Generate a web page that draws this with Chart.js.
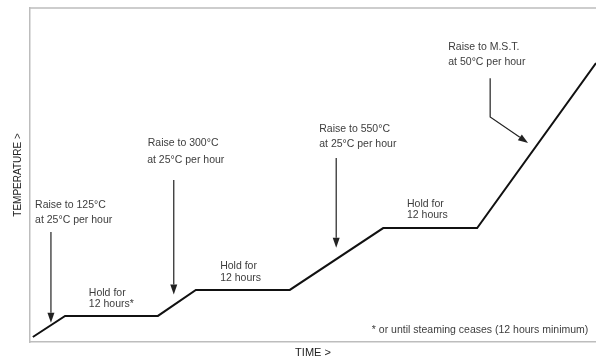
<!DOCTYPE html>
<html>
<head>
<meta charset="utf-8">
<script src="https://cdn.jsdelivr.net/npm/chart.js@4"></script>
<style>
  html, body { margin: 0; padding: 0; background: #fff; }
  #wrap { width: 596px; height: 360px; }
</style>
</head>
<body>
<div id="wrap"><canvas id="profile"></canvas></div>
<script>
// 溫度曲線 (示意圖, 0-100 相對單位)
let timeX = [0.5, 6.2, 22.6, 29.3, 45.9, 62.4, 79.0, 100]
let tempY = [1.5, 7.8, 7.8, 15.6, 15.6, 34.1, 34.1, 83.5]

// 箭頭 (折線, 最後一點是箭頭尖)
let arrowX = [[3.7, 3.7], [25.4, 25.4], [54.1, 54.1], [81.3, 81.3, 88.0]]
let arrowY = [[32.9, 5.8], [48.5, 14.2], [55.1, 28.2], [79.0, 67.4, 59.6]]

// 說明文字
let noteText = [
  'Raise to 125°C', 'at 25°C per hour',
  'Hold for', '12 hours*',
  'Raise to 300°C', 'at 25°C per hour',
  'Hold for', '12 hours',
  'Raise to 550°C', 'at 25°C per hour',
  'Hold for', '12 hours',
  'Raise to M.S.T.', 'at 50°C per hour',
  '* or until steaming ceases (12 hours minimum)'
]
let noteX = [0.9, 0.9, 10.4, 10.4, 20.8, 20.7, 33.6, 33.6, 51.1, 51.1, 66.6, 66.6, 73.9, 73.9, 60.4]
let noteY = [41.0, 36.5, 14.7, 11.3, 59.6, 54.5, 22.8, 19.2, 63.8, 59.3, 41.3, 38.0, 88.3, 83.8, 3.6]

const fontFamily = '"Liberation Sans", Arial, Helvetica, sans-serif'

// 畫外框上緣、箭頭、文字
const notesPlugin = {
  id: 'notes',
  afterDatasetsDraw(chart) {
    const {ctx, chartArea, scales: {x, y}} = chart
    ctx.save()

    // 上框線
    ctx.strokeStyle = '#bdbdbd'
    ctx.lineWidth = 1.5
    ctx.beginPath()
    ctx.moveTo(chartArea.left, chartArea.top)
    ctx.lineTo(chartArea.right, chartArea.top)
    ctx.stroke()

    // 箭頭
    ctx.strokeStyle = '#222'
    ctx.fillStyle = '#222'
    ctx.lineWidth = 1.2
    arrowX.forEach(function(xs, i) {
      const ys = arrowY[i]
      const pts = xs.map((v, k) => [x.getPixelForValue(v), y.getPixelForValue(ys[k])])
      const n = pts.length
      const tip = pts[n - 1], prev = pts[n - 2]
      const ang = Math.atan2(tip[1] - prev[1], tip[0] - prev[0])
      const len = 10, half = 3.5
      const bx = tip[0] - Math.cos(ang) * len
      const by = tip[1] - Math.sin(ang) * len
      ctx.beginPath()
      ctx.moveTo(pts[0][0], pts[0][1])
      for (let k = 1; k < n - 1; k++) ctx.lineTo(pts[k][0], pts[k][1])
      ctx.lineTo(bx, by)
      ctx.stroke()
      ctx.beginPath()
      ctx.moveTo(tip[0], tip[1])
      ctx.lineTo(bx + Math.sin(ang) * half, by - Math.cos(ang) * half)
      ctx.lineTo(bx - Math.sin(ang) * half, by + Math.cos(ang) * half)
      ctx.closePath()
      ctx.fill()
    })

    // 文字
    ctx.fillStyle = '#3d3d3d'
    ctx.font = '10.5px ' + fontFamily
    ctx.textAlign = 'left'
    ctx.textBaseline = 'middle'
    noteText.forEach(function(t, i) {
      ctx.fillText(t, x.getPixelForValue(noteX[i]), y.getPixelForValue(noteY[i]))
    })
    ctx.restore()
  }
}

var ctx = document.getElementById('profile').getContext('2d')
var profileChart = new Chart(ctx, {
  type: 'scatter',
  data: {
    datasets: [{
      data: timeX.map((v, i) => ({x: v, y: tempY[i]})),
      showLine: true,
      borderColor: '#111',
      borderWidth: 2,
      pointRadius: 0,
      tension: 0
    }]
  },
  options: {
    responsive: true,
    maintainAspectRatio: false,
    animation: false,
    events: [],
    layout: { padding: { top: 8, right: 0, left: 0, bottom: 0 } },
    plugins: {
      legend: { display: false },
      tooltip: { enabled: false }
    },
    scales: {
      x: {
        type: 'linear',
        min: 0,
        max: 100,
        grid: { display: false },
        ticks: { display: false },
        border: { display: true, color: '#bdbdbd', width: 1.5 },
        title: {
          display: true,
          text: 'TIME >',
          color: '#222',
          font: { family: fontFamily, size: 11 },
          padding: { top: 0, bottom: 0 }
        },
        afterFit: function(scale) { scale.height = 18 }
      },
      y: {
        type: 'linear',
        min: 0,
        max: 100,
        grid: { display: false },
        ticks: { display: false },
        border: { display: true, color: '#bdbdbd', width: 1.5 },
        title: {
          display: true,
          text: 'TEMPERATURE >',
          color: '#222',
          font: { family: fontFamily, size: 10 },
          padding: { top: 12, bottom: 0 }
        },
        afterFit: function(scale) { scale.width = 30 }
      }
    }
  },
  plugins: [notesPlugin]
})
</script>
</body>
</html>
